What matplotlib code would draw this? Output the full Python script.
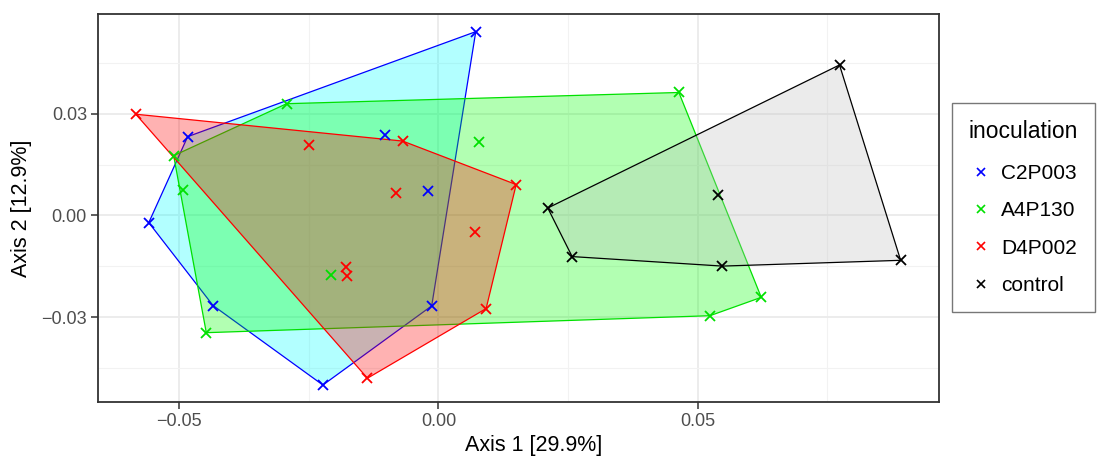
import numpy as np
import matplotlib
matplotlib.use("Agg")
import matplotlib.pyplot as plt
from matplotlib.lines import Line2D
from matplotlib.ticker import FixedLocator, FuncFormatter

plt.rcParams['font.family'] = ['Liberation Sans', 'DejaVu Sans']

# PCoA coordinates, one pair of arrays per group
c2p003_x = [0.0072, -0.0484, -0.0103, -0.0021, -0.0559, -0.0435, -0.0223, -0.0013]
c2p003_y = [0.0541, 0.0232, 0.0236, 0.0072, -0.0021, -0.0265, -0.0499, -0.0266]

a4p130_x = [-0.0293, -0.0511, -0.0493, 0.0079, -0.0207, -0.0448, 0.0464, 0.0623, 0.0524]
a4p130_y = [0.0329, 0.0176, 0.0074, 0.0215, -0.0176, -0.0345, 0.0362, -0.0241, -0.0295]

d4p002_x = [-0.0584, -0.0250, -0.0069, 0.0150, -0.0082, -0.0179, -0.0177, 0.0070, 0.0092, -0.0137]
d4p002_y = [0.0298, 0.0206, 0.0219, 0.0091, 0.0067, -0.0152, -0.0178, -0.0049, -0.0274, -0.0479]

control_x = [0.0774, 0.0539, 0.0211, 0.0258, 0.0548, 0.0892]
control_y = [0.0443, 0.0059, 0.0022, -0.0121, -0.0149, -0.0132]

groups = ["C2P003", "A4P130", "D4P002", "control"]
xs = [c2p003_x, a4p130_x, d4p002_x, control_x]
ys = [c2p003_y, a4p130_y, d4p002_y, control_y]

x_ticks = [-0.05, 0.00, 0.05]
y_ticks = [-0.03, 0.00, 0.03]

line_cols = ["#0000ff", "#00e000", "#ff0000", "#000000"]
fill_cols = ["#00ffff", "#00ff00", "#ff0000", "#bebebe"]


def hull(px, py):
    # monotone chain convex hull
    pts = sorted(zip(px, py))

    def cross(o, a, b):
        return (a[0] - o[0]) * (b[1] - o[1]) - (a[1] - o[1]) * (b[0] - o[0])

    lower, upper = [], []
    for p in pts:
        while len(lower) >= 2 and cross(lower[-2], lower[-1], p) <= 0:
            lower.pop()
        lower.append(p)
    for p in reversed(pts):
        while len(upper) >= 2 and cross(upper[-2], upper[-1], p) <= 0:
            upper.pop()
        upper.append(p)
    return np.array(lower[:-1] + upper[:-1])


fig = plt.figure(figsize=(10.97, 4.57), dpi=100)
ax = fig.add_axes([98 / 1097, 1 - 402 / 457, (939 - 98) / 1097, (402 - 14) / 457])

for i in range(len(groups)):
    h = hull(xs[i], ys[i])
    ax.fill(h[:, 0], h[:, 1], facecolor=fill_cols[i], alpha=0.3, zorder=2 + i)
    hc = np.vstack([h, h[:1]])
    ax.plot(hc[:, 0], hc[:, 1], color=line_cols[i], lw=0.9, zorder=2 + i)

for i in range(len(groups)):
    ax.plot(xs[i], ys[i], 'x', color=line_cols[i], ms=6.5, mew=1.3, zorder=10)

ax.set_xlim(-0.0657, 0.0966)
ax.set_ylim(-0.0549, 0.0593)

ax.xaxis.set_major_locator(FixedLocator(x_ticks))
ax.yaxis.set_major_locator(FixedLocator(y_ticks))
ax.xaxis.set_minor_locator(FixedLocator([-0.075, -0.025, 0.025, 0.075]))
ax.yaxis.set_minor_locator(FixedLocator([-0.045, -0.015, 0.015, 0.045]))
fmt = FuncFormatter(lambda v, p: ("%.2f" % v).replace("-", "\u2212"))
ax.xaxis.set_major_formatter(fmt)
ax.yaxis.set_major_formatter(fmt)

ax.grid(which='major', color='#ebebeb', lw=1.3, zorder=0)
ax.grid(which='minor', color='#f2f2f2', lw=0.8, zorder=0)
ax.set_axisbelow(True)
ax.tick_params(which='major', length=5, width=1.1, color='#333333',
               labelsize=13, labelcolor='#4d4d4d', pad=3)
ax.tick_params(which='minor', length=0)
for s in ax.spines.values():
    s.set_color('#333333')
    s.set_linewidth(1.3)

ax.set_xlabel("Axis 1 [29.9%]", fontsize=15.5, color='black')
ax.set_ylabel("Axis 2 [12.9%]", fontsize=15.5, color='black')
ax.xaxis.set_label_coords(0.518, -0.085)
ax.yaxis.set_label_coords(-0.078, 0.5)

handles = [Line2D([], [], ls='none', marker='x', color=c, ms=6, mew=1.2) for c in line_cols]
leg = fig.legend(handles, groups, title="inoculation", loc='upper left',
                 bbox_to_anchor=(952 / 1097, 1 - 103 / 457), bbox_transform=fig.transFigure,
                 fontsize=15, title_fontsize=16.5, frameon=True, fancybox=False,
                 handlelength=1.2, handletextpad=0.35, labelspacing=0.875,
                 borderpad=0.8, borderaxespad=0)
leg._legend_box.align = "left"
leg._legend_box.sep = 15.5
leg.get_frame().set_edgecolor('#555555')
leg.get_frame().set_linewidth(1.0)

fig.savefig("out.png", dpi=100)
